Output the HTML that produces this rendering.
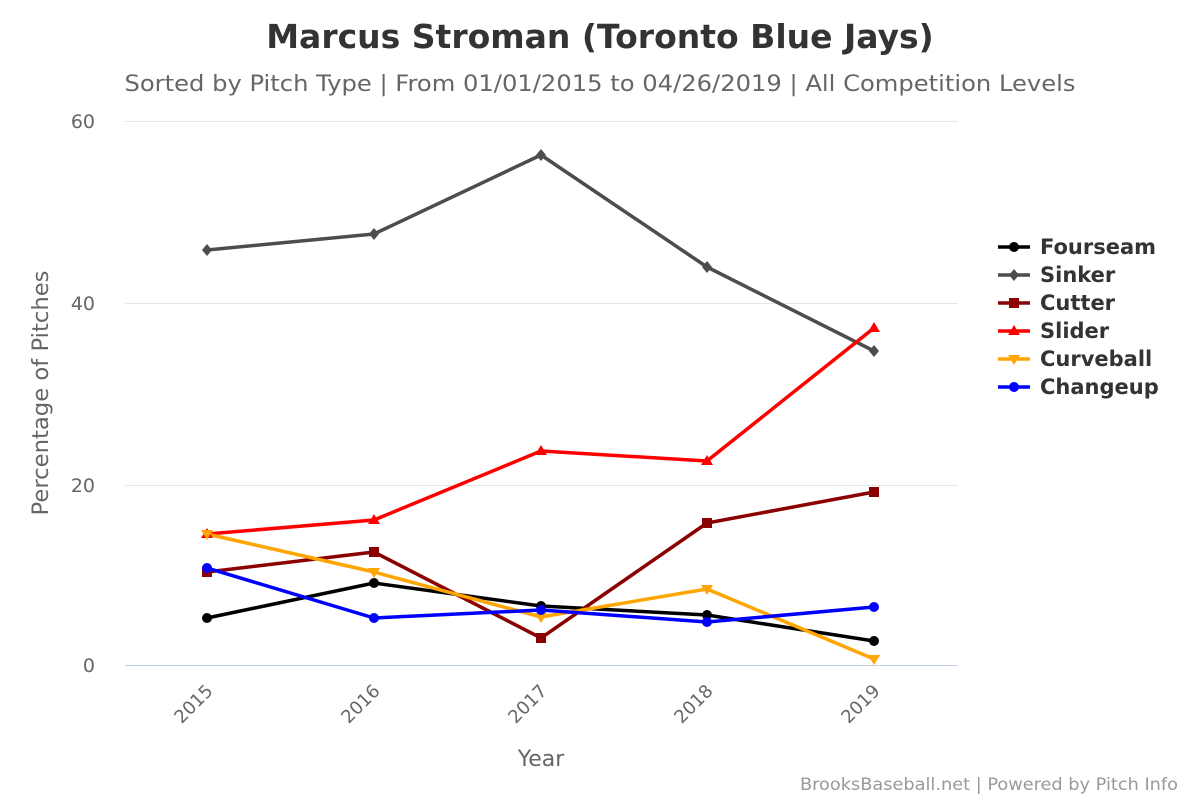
<!DOCTYPE html>
<html><head><meta charset="utf-8"><style>
html,body{margin:0;padding:0;background:#fff;}
svg{display:block;font-family:"DejaVu Sans","Liberation Sans",sans-serif;}
</style></head><body>
<svg width="1200" height="800" viewBox="0 0 1200 800" xmlns="http://www.w3.org/2000/svg">
<rect width="1200" height="800" fill="#fff"/>
<text x="600" y="48" text-anchor="middle" font-size="33" font-weight="bold" fill="#333">Marcus Stroman (Toronto Blue Jays)</text>
<text x="600" y="91" text-anchor="middle" font-size="22" fill="#666" textLength="951" lengthAdjust="spacingAndGlyphs">Sorted by Pitch Type | From 01/01/2015 to 04/26/2019 | All Competition Levels</text>
<g stroke="#e6e6e6" stroke-width="1">
<line x1="125" y1="121.5" x2="958" y2="121.5"/>
<line x1="125" y1="303.5" x2="958" y2="303.5"/>
<line x1="125" y1="485.5" x2="958" y2="485.5"/>
</g>
<line x1="125" y1="665.5" x2="958" y2="665.5" stroke="#c0d0e0" stroke-width="1"/>
<g font-size="19" fill="#666" text-anchor="end">
<text x="95" y="128">60</text>
<text x="95" y="310">40</text>
<text x="95" y="492">20</text>
<text x="95" y="672">0</text>
</g>
<text transform="translate(48,393) rotate(-90)" text-anchor="middle" font-size="22" fill="#666" textLength="245" lengthAdjust="spacingAndGlyphs">Percentage of Pitches</text>
<g font-size="18" fill="#666" text-anchor="end">
<text transform="translate(214,692) rotate(-45)">2015</text>
<text transform="translate(381,692) rotate(-45)">2016</text>
<text transform="translate(548,692) rotate(-45)">2017</text>
<text transform="translate(714,692) rotate(-45)">2018</text>
<text transform="translate(881,692) rotate(-45)">2019</text>
</g>
<text x="541" y="766" text-anchor="middle" font-size="22" fill="#666">Year</text>
<g fill="none" stroke-width="3.5" stroke-linejoin="round">
<polyline stroke="#000" points="207,618 374,583 541,606 707,615 874,641"/>
<polyline stroke="#4d4d4d" points="207,250 374,234 541,155 707,267 874,351"/>
<polyline stroke="#8b0000" points="207,572 374,552 541,638 707,523 874,492"/>
<polyline stroke="#ff0000" points="207,534 374,520 541,451 707,461 874,328"/>
<polyline stroke="#ffa500" points="207,534 374,572 541,617 707,589 874,659"/>
<polyline stroke="#0000ff" points="207,568 374,618 541,610 707,622 874,607"/>
</g>
<g fill="#000"><circle cx="207" cy="618" r="5"/><circle cx="374" cy="583" r="5"/><circle cx="541" cy="606" r="5"/><circle cx="707" cy="615" r="5"/><circle cx="874" cy="641" r="5"/></g>
<g fill="#4d4d4d"><path d="M207,244l5,6l-5,6l-5,-6z"/><path d="M374,228l5,6l-5,6l-5,-6z"/><path d="M541,149l5,6l-5,6l-5,-6z"/><path d="M707,261l5,6l-5,6l-5,-6z"/><path d="M874,345l5,6l-5,6l-5,-6z"/></g>
<g fill="#8b0000"><rect x="202" y="567" width="10" height="10"/><rect x="369" y="547" width="10" height="10"/><rect x="536" y="633" width="10" height="10"/><rect x="702" y="518" width="10" height="10"/><rect x="869" y="487" width="10" height="10"/></g>
<g fill="#ff0000"><path d="M207,528l6,10h-12z"/><path d="M374,514l6,10h-12z"/><path d="M541,445l6,10h-12z"/><path d="M707,455l6,10h-12z"/><path d="M874,322l6,10h-12z"/></g>
<g fill="#ffa500"><path d="M207,540l6,-10h-12z"/><path d="M374,578l6,-10h-12z"/><path d="M541,623l6,-10h-12z"/><path d="M707,595l6,-10h-12z"/><path d="M874,665l6,-10h-12z"/></g>
<g fill="#0000ff"><circle cx="207" cy="568" r="5"/><circle cx="374" cy="618" r="5"/><circle cx="541" cy="610" r="5"/><circle cx="707" cy="622" r="5"/><circle cx="874" cy="607" r="5"/></g>
<g font-size="21" font-weight="bold" fill="#333" stroke-width="3.5">
<line x1="998" y1="247" x2="1030" y2="247" stroke="#000"/><circle cx="1014" cy="247" r="5" fill="#000"/><text x="1040" y="254">Fourseam</text>
<line x1="998" y1="275" x2="1030" y2="275" stroke="#4d4d4d"/><path d="M1014,269l5,6l-5,6l-5,-6z" fill="#4d4d4d"/><text x="1040" y="282">Sinker</text>
<line x1="998" y1="303" x2="1030" y2="303" stroke="#8b0000"/><rect x="1009" y="298" width="10" height="10" fill="#8b0000"/><text x="1040" y="310">Cutter</text>
<line x1="998" y1="331" x2="1030" y2="331" stroke="#ff0000"/><path d="M1014,325l6,10h-12z" fill="#ff0000"/><text x="1040" y="338">Slider</text>
<line x1="998" y1="359" x2="1030" y2="359" stroke="#ffa500"/><path d="M1014,365l6,-10h-12z" fill="#ffa500"/><text x="1040" y="366">Curveball</text>
<line x1="998" y1="387" x2="1030" y2="387" stroke="#0000ff"/><circle cx="1014" cy="387" r="5" fill="#0000ff"/><text x="1040" y="394">Changeup</text>
</g>
<text x="1178" y="790" text-anchor="end" font-size="17" fill="#999" textLength="378" lengthAdjust="spacingAndGlyphs">BrooksBaseball.net | Powered by Pitch Info</text>
</svg>
</body></html>
